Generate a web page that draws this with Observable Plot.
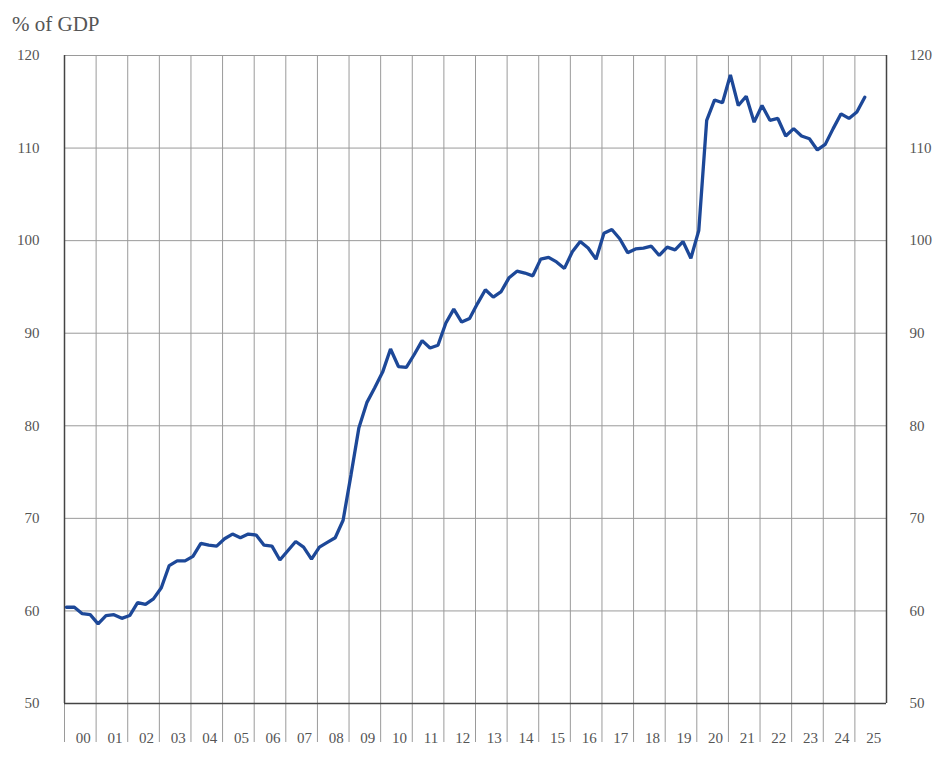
<!DOCTYPE html>
<html>
<head>
<meta charset="utf-8">
<script src="https://cdn.jsdelivr.net/npm/d3@7"></script>
<script src="https://cdn.jsdelivr.net/npm/@observablehq/plot@0.6"></script>
<style>
  body { margin: 0; background: #fff; }
  #wrap { position: relative; width: 948px; height: 765px; }
  #title { position: absolute; left: 12px; top: 12px; font-family: "Liberation Serif", "Times New Roman", "DejaVu Serif", serif; font-size: 21px; color: #555; }
</style>
</head>
<body>
<div id="wrap">
  <div id="title">% of GDP</div>
  <div id="chart"></div>
</div>
<script>
// quarterly ratio, 2000 Q1 .. 2025 Q2
const startYear = 2000;
const values = [
  60.4, 60.4, 59.7, 59.6,   // 2000
  58.6, 59.5, 59.6, 59.2,   // 2001
  59.5, 60.9, 60.7, 61.3,   // 2002
  62.5, 64.9, 65.4, 65.4,   // 2003
  65.9, 67.3, 67.1, 67.0,   // 2004
  67.8, 68.3, 67.9, 68.3,   // 2005
  68.2, 67.1, 67.0, 65.5,   // 2006
  66.5, 67.5, 66.9, 65.6,   // 2007
  66.9, 67.4, 67.9, 69.8,   // 2008
  74.7, 79.8, 82.5, 84.1,   // 2009
  85.8, 88.3, 86.4, 86.3,   // 2010
  87.7, 89.2, 88.4, 88.7,   // 2011
  91.1, 92.6, 91.2, 91.6,   // 2012
  93.2, 94.7, 93.9, 94.5,   // 2013
  96.0, 96.7, 96.5, 96.2,   // 2014
  98.0, 98.2, 97.7, 97.0,   // 2015
  98.8, 99.9, 99.2, 98.0,   // 2016
  100.8, 101.2, 100.2, 98.7, // 2017
  99.1, 99.2, 99.4, 98.4,   // 2018
  99.3, 99.0, 99.9, 98.1,   // 2019
  101.1, 113.0, 115.2, 114.9, // 2020
  117.9, 114.6, 115.6, 112.8, // 2021
  114.6, 113.0, 113.2, 111.3, // 2022
  112.1, 111.3, 111.0, 109.8, // 2023
  110.4, 112.1, 113.7, 113.2, // 2024
  113.9, 115.5               // 2025
];
const years = d3.range(2000, 2026);
const yearLabels = years.map(y => String(y % 100).padStart(2, "0"));
const yTicks = [50, 60, 70, 80, 90, 100, 110, 120];

const data = values.map((v, i) => ({
  t: startYear + Math.floor(i / 4) + (i % 4) / 4 + 1 / 16,
  v
}));

const grid = "#9a9a9a";
const ink = "#555";
const frame = "#444";

let chart = Plot.plot({
  width: 948,
  height: 765,
  marginLeft: 64,
  marginRight: 62,
  marginTop: 55,
  marginBottom: 62,
  style: { fontFamily: "'Liberation Serif', 'Times New Roman', 'DejaVu Serif', serif", fontSize: "15px", color: ink, background: "#fff" },
  x: { domain: [2000, 2026] },
  y: { domain: [50, 120] },
  marks: [
    Plot.gridY(yTicks, { stroke: grid, strokeOpacity: 1 }),
    Plot.gridX(years, { stroke: grid, strokeOpacity: 1 }),
    // year separators extending below the axis
    Plot.axisX(years, { anchor: "bottom", tickSize: 39, stroke: grid, strokeOpacity: 1, tickFormat: () => "", label: null }),
    // year labels centred in each cell
    Plot.axisX(years.map(y => y + 0.5), {
      anchor: "bottom", tickSize: 0, tickPadding: 29, dx: 3,
      tickFormat: (d, i) => yearLabels[i], fill: ink, label: null
    }),
    Plot.axisY(yTicks, { anchor: "left", tickSize: 0, tickPadding: 25, fill: ink, label: null }),
    Plot.axisY(yTicks, { anchor: "right", tickSize: 0, tickPadding: 23, fill: ink, label: null, textAnchor: "start" }),
    Plot.ruleX([2000, 2026], { stroke: frame, strokeWidth: 1.5 }),
    Plot.ruleY([50], { stroke: frame, strokeWidth: 1.5 }),
    Plot.line(data, { x: "t", y: "v", stroke: "#1d4898", strokeWidth: 3.3, strokeLinejoin: "miter" })
  ]
});
d3.select("#chart").append(() => chart);
</script>
</body>
</html>
